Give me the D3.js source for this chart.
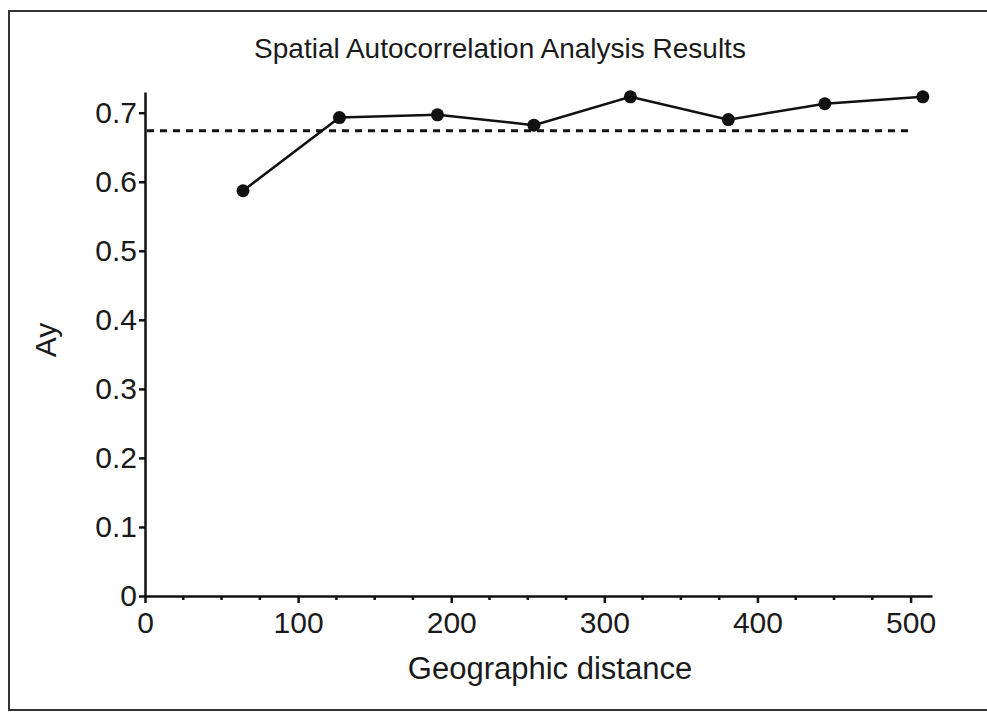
<!DOCTYPE html>
<html>
<head>
<meta charset="utf-8">
<script src="https://d3js.org/d3.v7.min.js"></script>
<style>
  body { margin: 0; background: #fff; overflow: hidden; }
  text { font-family: "Liberation Sans", Arial, sans-serif; fill: #1a1a1a; }
</style>
</head>
<body>
<div id="container"></div>
<script>
const distances = [64, 127, 191, 254, 317, 381, 444, 508];
const ayValues = [0.587, 0.693, 0.697, 0.682, 0.723, 0.690, 0.713, 0.723];
const xTicks = [0, 100, 200, 300, 400, 500];
const xMinorTicks = [25, 50, 75, 125, 150, 175, 225, 250, 275, 325, 350, 375, 425, 450, 475];
const yTicks = [0, 0.1, 0.2, 0.3, 0.4, 0.5, 0.6, 0.7];
const refValue = [0.674];
const refExtent = [0, 500];

const data = distances.map((d, i) => ({distance: d, ay: ayValues[i]}));

window.onload = () => {
  const width = 987;
  const height = 713;

  const svg = d3.select("#container")
    .append("svg")
    .attr("width", width)
    .attr("height", height)
    .style("display", "block");

  // frame round the figure
  svg.append("rect")
    .attr("x", 9)
    .attr("y", 11)
    .attr("width", 990)
    .attr("height", 699)
    .attr("fill", "none")
    .attr("stroke", "#333")
    .attr("stroke-width", 2);

  const x = d3.scaleLinear()
    .domain([0, 514])
    .range([145, 932]);

  const y = d3.scaleLinear()
    .domain([0, 0.73])
    .range([596, 92]);

  // x axis
  const xAxis = svg.append("g")
    .attr("class", "x axis")
    .attr("transform", "translate(0," + y(0) + ")")
    .call(d3.axisBottom(x)
      .tickValues(xTicks)
      .tickSize(7)
      .tickPadding(9)
      .tickSizeOuter(0)
      .tickFormat(d3.format("d")));

  xAxis.selectAll(".minor")
    .data(xMinorTicks)
    .enter()
    .append("line")
    .attr("class", "minor")
    .attr("x1", d => x(d))
    .attr("x2", d => x(d))
    .attr("y1", 0)
    .attr("y2", 4)
    .attr("stroke", "#111")
    .attr("stroke-width", 2);

  // y axis
  svg.append("g")
    .attr("class", "y axis")
    .attr("transform", "translate(" + x(0) + ",0)")
    .call(d3.axisLeft(y)
      .tickValues(yTicks)
      .tickSize(6)
      .tickPadding(2)
      .tickSizeOuter(0)
      .tickFormat(d => d === 0 ? "0" : d3.format(".1f")(d)));

  svg.selectAll(".axis path, .axis line")
    .attr("stroke", "#111")
    .attr("stroke-width", 2.5);
  svg.selectAll(".axis text")
    .attr("font-size", 30)
    .attr("fill", "#1a1a1a");

  // reference line
  svg.selectAll(".ref")
    .data(refValue)
    .enter()
    .append("line")
    .attr("class", "ref")
    .attr("x1", x(refExtent[0]) + 2)
    .attr("x2", x(refExtent[1]))
    .attr("y1", d => y(d))
    .attr("y2", d => y(d))
    .attr("stroke", "#111")
    .attr("stroke-width", 3)
    .attr("stroke-dasharray", "7,6");

  const line = d3.line()
    .x(d => x(d.distance))
    .y(d => y(d.ay));

  svg.append("path")
    .datum(data)
    .attr("d", line)
    .attr("fill", "none")
    .attr("stroke", "#111")
    .attr("stroke-width", 2.5);

  svg.selectAll(".dot")
    .data(data)
    .enter()
    .append("circle")
    .attr("class", "dot")
    .attr("cx", d => x(d.distance))
    .attr("cy", d => y(d.ay))
    .attr("r", 6.5)
    .attr("fill", "#111");

  // titles
  svg.append("text")
    .attr("x", 500)
    .attr("y", 58)
    .attr("text-anchor", "middle")
    .attr("font-size", 28)
    .text("Spatial Autocorrelation Analysis Results");

  svg.append("text")
    .attr("x", 550)
    .attr("y", 679)
    .attr("text-anchor", "middle")
    .attr("font-size", 31)
    .text("Geographic distance");

  svg.append("text")
    .attr("transform", "translate(56,340) rotate(-90)")
    .attr("text-anchor", "middle")
    .attr("font-size", 30)
    .text("Ay");
};
</script>
</body>
</html>
